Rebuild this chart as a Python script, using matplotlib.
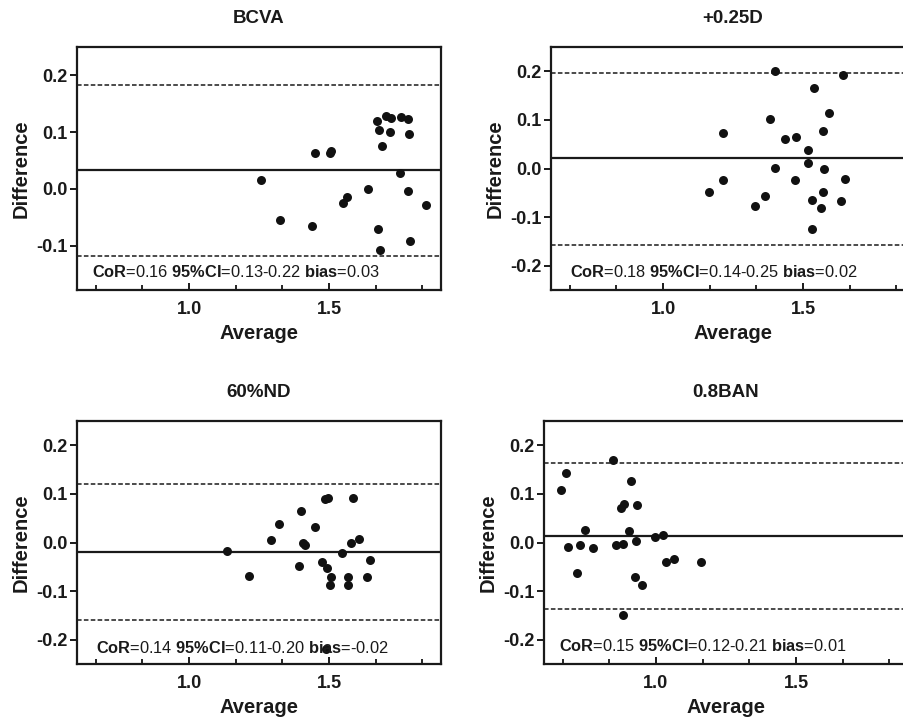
import matplotlib
matplotlib.use("Agg")
import matplotlib.pyplot as plt
from matplotlib.ticker import MultipleLocator, FixedLocator

plt.rcParams['font.family'] = ['Liberation Sans', 'DejaVu Sans']
plt.rcParams['mathtext.fontset'] = 'custom'
plt.rcParams['mathtext.rm'] = 'Liberation Sans'
plt.rcParams['mathtext.bf'] = 'Liberation Sans:bold'

# ---- data ----
titles = ["BCVA", "+0.25D", "60%ND", "0.8BAN"]

bcva_avg = [1.257, 1.324, 1.438, 1.45, 1.504, 1.507, 1.55, 1.563, 1.638, 1.670, 1.680, 1.689,
            1.702, 1.720, 1.718, 1.756, 1.783, 1.785, 1.754, 1.783, 1.848, 1.674, 1.682, 1.79]
bcva_diff = [0.015, -0.055, -0.065, 0.064, 0.063, 0.066, -0.025, -0.015, 0.0, 0.12, 0.103, 0.076,
             0.129, 0.125, 0.1, 0.126, 0.123, 0.096, 0.028, -0.003, -0.029, -0.07, -0.108, -0.092]

d025_avg = [1.163, 1.213, 1.214, 1.33, 1.365, 1.382, 1.4, 1.401, 1.437, 1.476, 1.471, 1.519,
            1.517, 1.539, 1.531, 1.533, 1.563, 1.570, 1.570, 1.575, 1.594, 1.637, 1.644, 1.651]
d025_diff = [-0.049, -0.023, 0.073, -0.078, -0.057, 0.101, 0.2, 0.001, 0.060, 0.064, -0.023, 0.039,
             0.012, 0.165, -0.065, -0.124, -0.082, -0.048, 0.077, 0.0, 0.115, -0.067, 0.193, -0.021]

nd60_avg = [1.135, 1.215, 1.293, 1.323, 1.392, 1.4, 1.407, 1.415, 1.45, 1.476, 1.486, 1.495,
            1.493, 1.506, 1.504, 1.546, 1.569, 1.568, 1.577, 1.584, 1.607, 1.636, 1.645, 1.488]
nd60_diff = [-0.017, -0.068, 0.0055, 0.039, -0.048, 0.064, -0.001, -0.005, 0.032, -0.04, 0.09, 0.092,
             -0.053, -0.071, -0.087, -0.022, -0.072, -0.087, 0.0, 0.092, 0.0075, -0.072, -0.036, -0.22]

ban_avg = [0.662, 0.680, 0.687, 0.717, 0.730, 0.745, 0.775, 0.845, 0.857, 0.874, 0.881, 0.887,
           0.881, 0.904, 0.910, 0.924, 0.929, 0.933, 0.949, 0.996, 1.026, 1.036, 1.064, 1.161]
ban_diff = [0.107, 0.144, -0.010, -0.062, -0.006, 0.026, -0.012, 0.169, -0.005, 0.072, -0.003, 0.079,
            -0.150, 0.023, 0.127, -0.070, 0.003, 0.077, -0.088, 0.011, 0.015, -0.040, -0.033, -0.041]

bias = [0.0335, 0.0206, -0.0198, 0.0137]
upper_loa = [0.183, 0.1955, 0.120, 0.164]
lower_loa = [-0.118, -0.158, -0.159, -0.136]

cor = ["0.16", "0.18", "0.14", "0.15"]
ci = ["0.13-0.22", "0.14-0.25", "0.11-0.20", "0.12-0.21"]
bias_txt = ["0.03", "0.02", "-0.02", "0.01"]

avgs = [bcva_avg, d025_avg, nd60_avg, ban_avg]
diffs = [bcva_diff, d025_diff, nd60_diff, ban_diff]
ylims = [(-0.178, 0.25), (-0.25, 0.25), (-0.25, 0.25), (-0.25, 0.25)]

# ---- layout ----
W, H = 904, 718
fig = plt.figure(figsize=(W / 100, H / 100), dpi=100)
boxes = [(77, 47), (551, 47), (77, 421), (544, 421)]
aw, ah = 364, 243
text_pos = [(0.041, 0.075), (0.052, 0.075), (0.051, 0.065), (0.042, 0.074)]

for i in range(4):
    x0, y0 = boxes[i]
    ax = fig.add_axes([x0 / W, 1 - (y0 + ah) / H, aw / W, ah / H])
    ax.set_xlim(0.6, 1.9)
    ax.set_ylim(*ylims[i])
    ax.axhline(bias[i], color='#1a1a1a', lw=1.6, zorder=2)
    ax.axhline(upper_loa[i], color='#1a1a1a', lw=1.1, ls=(0, (3, 1.5)), zorder=2)
    ax.axhline(lower_loa[i], color='#1a1a1a', lw=1.1, ls=(0, (3, 1.5)), zorder=2)
    ax.scatter(avgs[i], diffs[i], s=42, color='#111111', zorder=3, linewidths=0)

    for sp in ax.spines.values():
        sp.set_linewidth(1.6)
        sp.set_color('#1a1a1a')

    ax.yaxis.set_major_locator(MultipleLocator(0.1))
    ax.yaxis.set_major_formatter(matplotlib.ticker.FormatStrFormatter('%.1f'))
    ax.xaxis.set_major_locator(FixedLocator([1.0, 1.5]))
    ax.xaxis.set_minor_locator(FixedLocator([0.6667, 0.8333, 1.1667, 1.3333, 1.6667, 1.8333]))
    ax.xaxis.set_major_formatter(matplotlib.ticker.FormatStrFormatter('%.1f'))
    ax.tick_params(axis='y', direction='out', length=5, width=1.4, pad=2,
                   labelsize=13, colors='#1a1a1a')
    ax.tick_params(axis='x', which='major', direction='in', length=5, width=1.4, pad=8,
                   labelsize=13, colors='#1a1a1a')
    ax.tick_params(axis='x', which='minor', direction='in', length=3.5, width=1.2)
    for lab in ax.get_xticklabels() + ax.get_yticklabels():
        lab.set_fontweight('bold')

    ax.set_title(titles[i], fontsize=13.5, fontweight='bold', pad=17.5, color='#1a1a1a')
    ax.set_xlabel("Average", fontsize=14.5, fontweight='bold', labelpad=4, color='#1a1a1a')
    ax.set_ylabel("Difference", fontsize=14.5, fontweight='bold', labelpad=4, color='#1a1a1a')

    s = (r"$\mathbf{CoR}$=" + cor[i] + r" $\mathbf{95\%CI}$=" + ci[i] +
         r" $\mathbf{bias}$=" + bias_txt[i])
    ax.text(text_pos[i][0], text_pos[i][1], s, transform=ax.transAxes, fontsize=11.8,
            va='center', ha='left', color='#1a1a1a', zorder=4)

fig.savefig("out.png", dpi=100)
